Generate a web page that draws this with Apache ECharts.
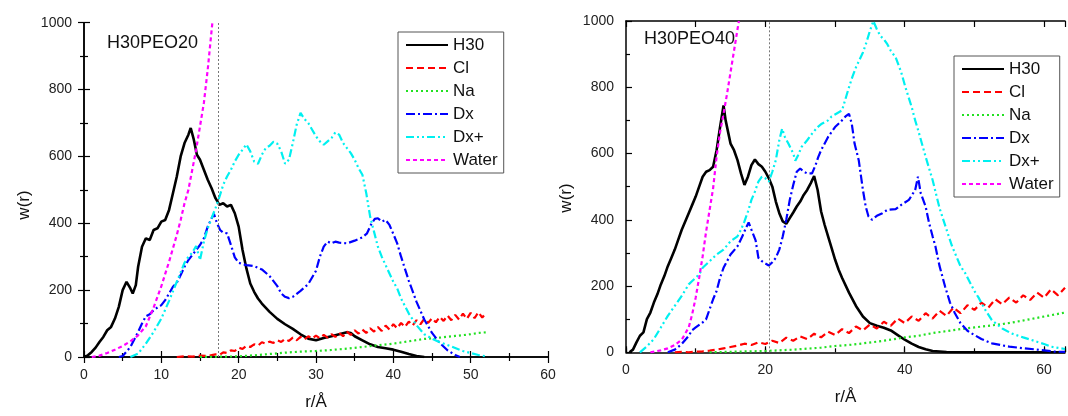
<!DOCTYPE html>
<html>
<head>
<meta charset="utf-8">
<script src="https://cdn.jsdelivr.net/npm/echarts@6/dist/echarts.min.js"></script>
<style>
  html, body { margin: 0; padding: 0; background: #fff; }
  #chart { width: 1068px; height: 416px; }
</style>
</head>
<body>
<div id="chart"></div>
<script>
// series names (legend order)
const seriesNames = ["H30", "Cl", "Na", "Dx", "Dx+", "Water"];
const xTicksA = [0, 10, 20, 30, 40, 50, 60];
const xTicksB = [0, 20, 40, 60];
const yTicks = [0, 200, 400, 600, 800, 1000];

// ---- H30PEO20 (left panel), [r, w(r)] ----
const h30A = [[0,0],[0.5,5],[1,15],[1.5,28],[2,45],[2.5,60],[3,80],[3.5,90],[4,115],[4.5,150],[5,200],[5.5,225],[6,205],[6.3,190],[6.7,215],[7,270],[7.5,330],[8,355],[8.5,350],[9,380],[9.5,385],[10,405],[10.5,410],[11,440],[11.5,490],[12,540],[12.5,600],[13,640],[13.5,665],[13.8,685],[14.2,650],[14.6,605],[15,590],[15.5,560],[16,530],[16.5,505],[17,475],[17.5,455],[18,460],[18.5,450],[19,455],[19.5,430],[20,390],[20.5,320],[21,265],[21.5,220],[22,195],[22.5,175],[23,160],[24,135],[25,114],[26,98],[27,84],[28,68],[29,55],[30,50],[31,57],[32,62],[33,68],[34,74],[34.5,72],[35,62],[36,50],[37,38],[38,30],[39,26],[40,22],[41,16],[42,9],[43,3],[44,0]];
const clA = [[12,0],[13,2],[14,1],[15,4],[16,3],[17,8],[17.5,6],[18,14],[18.5,12],[19,20],[19.5,18],[20,28],[20.5,24],[21,33],[21.5,30],[22,38],[22.5,34],[23,44],[23.5,40],[24,46],[24.5,42],[25,50],[25.5,45],[26,54],[26.5,48],[27,58],[27.5,50],[28,60],[28.5,52],[29,62],[29.5,55],[30,64],[30.5,56],[31,66],[31.5,58],[32,68],[32.5,60],[33,72],[33.5,62],[34,76],[34.5,66],[35,80],[35.5,70],[36,82],[36.5,72],[37,86],[37.5,76],[38,90],[38.5,78],[39,94],[39.5,82],[40,98],[40.5,86],[41,102],[41.5,90],[42,106],[42.5,94],[43,110],[43.5,98],[44,114],[44.5,102],[45,116],[45.5,104],[46,120],[46.5,108],[47,124],[47.5,110],[48,126],[48.5,112],[49,130],[49.5,114],[50,132],[50.5,116],[51,134],[51.5,118],[52,132]];
const naA = [[15,0],[18,1],[20,2],[22,5],[24,9],[26,13],[28,16],[30,18],[32,21],[34,25],[36,30],[38,35],[40,40],[42,47],[44,54],[46,58],[48,63],[50,68],[51,72],[52,74]];
const dxA = [[4.5,0],[5,3],[6,30],[7,75],[7.5,100],[8,122],[8.5,128],[9,140],[9.5,148],[10,155],[10.5,170],[11,190],[11.5,210],[12,222],[12.5,245],[13,270],[13.5,290],[14,305],[14.5,320],[15,335],[15.5,355],[16,390],[16.4,410],[16.8,428],[17.2,400],[17.6,380],[18,372],[18.5,370],[19,335],[19.5,298],[20,282],[20.5,278],[21,275],[22,272],[23,262],[24,242],[25,212],[25.5,190],[26,180],[26.5,176],[27,180],[28,198],[29,218],[30,258],[30.5,300],[31,330],[31.5,345],[32,340],[32.5,345],[33,342],[34,340],[35,348],[36,358],[36.6,370],[37.2,400],[37.6,413],[38,415],[38.5,405],[39,410],[39.5,395],[40,368],[40.5,340],[41,300],[42,228],[43,165],[44,112],[45,72],[46,42],[47,20],[48,6],[48.6,0]];
const dxpA = [[6,0],[7,10],[8,40],[9,75],[10,115],[11,168],[12,225],[13,282],[13.5,300],[14,312],[14.5,332],[15,290],[15.5,345],[16,385],[16.5,415],[17,445],[17.5,478],[18,515],[18.5,540],[19,560],[19.5,585],[20,605],[20.5,620],[21,636],[21.5,615],[22,585],[22.5,578],[23,605],[23.5,625],[24,632],[24.5,644],[25,638],[25.5,615],[26,578],[26.5,590],[27,640],[27.5,695],[28,730],[28.5,712],[29,700],[29.5,680],[30,660],[30.5,645],[31,635],[31.5,645],[32,655],[32.5,672],[33,665],[33.5,640],[34,625],[34.5,610],[35,590],[35.5,565],[36,545],[36.5,490],[37,420],[37.5,375],[38,330],[38.5,300],[39,275],[39.5,250],[40,225],[40.5,205],[41,175],[42,130],[43,95],[44,68],[45,55],[46,44],[47,36],[48,27],[49,18],[50,12],[51,6],[52,2]];
const waterA = [[1,0],[2,4],[3,12],[4,22],[5,33],[6,47],[7,65],[8,92],[9,148],[10,212],[11,285],[12,365],[12.5,410],[13,460],[13.5,500],[14,560],[14.5,620],[15,690],[15.5,760],[16,860],[16.3,930],[16.6,1000]];

// ---- H30PEO40 (right panel) ----
const h30B = [[0.5,0],[1,8],[1.5,30],[2,50],[2.5,60],[3,100],[3.5,120],[4,150],[4.5,175],[5,205],[5.5,230],[6,260],[6.5,285],[7,310],[7.5,340],[8,370],[8.5,395],[9,420],[9.5,445],[10,470],[10.5,500],[11,530],[11.5,545],[12,550],[12.5,560],[13,610],[13.5,680],[14,745],[14.3,700],[14.7,660],[15,630],[15.5,610],[16,580],[16.5,540],[17,505],[17.5,530],[18,565],[18.5,582],[19,568],[19.5,560],[20,545],[20.5,525],[21,500],[21.5,455],[22,420],[22.5,395],[23,388],[23.5,405],[24,422],[24.5,440],[25,455],[25.5,475],[26,490],[26.5,510],[27,532],[27.5,490],[28,425],[28.5,385],[29,350],[29.5,315],[30,280],[30.5,250],[31,225],[32,180],[33,140],[34,108],[35,88],[36,80],[37,74],[38,66],[39,52],[40,38],[41,26],[42,16],[43,9],[44,4],[46,1],[50,0],[63,0]];
const clB = [[7,0],[8,1],[9,0],[10,2],[11,3],[12,5],[13,8],[14,12],[15,16],[16,20],[17,26],[18,22],[19,30],[20,25],[21,35],[22,28],[23,44],[24,35],[25,48],[26,40],[27,56],[28,45],[29,62],[30,52],[31,70],[32,58],[33,78],[34,66],[35,84],[36,72],[37,92],[38,80],[39,102],[40,88],[41,108],[42,95],[43,118],[44,102],[45,125],[46,110],[47,135],[48,118],[49,142],[50,128],[51,150],[52,135],[53,160],[54,145],[55,165],[56,150],[57,172],[58,158],[59,180],[60,165],[61,190],[62,172],[63,195]];
const naB = [[12,0],[16,2],[20,4],[22,6],[24,8],[26,11],[28,14],[30,19],[32,22],[34,27],[36,32],[38,38],[40,45],[42,50],[44,58],[46,64],[48,70],[50,75],[52,80],[54,85],[56,92],[58,100],[60,108],[62,116],[63,120]];
const dxB = [[6,0],[7,8],[8,25],[9,50],[9.5,67],[10,75],[11,90],[11.5,100],[12,130],[12.5,160],[13,185],[13.5,225],[14,255],[14.5,275],[15,295],[16,320],[16.7,350],[17.2,375],[17.6,392],[18,370],[18.6,338],[19,285],[19.5,275],[20,268],[20.5,262],[21,272],[21.5,285],[22,310],[22.5,350],[23,400],[23.5,460],[24,505],[24.5,545],[25,555],[25.5,545],[26,540],[26.7,540],[27.2,565],[27.6,590],[28,610],[29,650],[29.5,665],[30,680],[30.5,690],[31,700],[31.5,712],[32,720],[32.4,690],[32.8,630],[33.4,580],[34,490],[34.4,440],[34.8,410],[35.3,400],[36,412],[36.8,420],[37.5,430],[38.7,432],[39.5,445],[40.6,460],[41.5,490],[41.9,530],[42.3,480],[43,440],[43.5,390],[44,350],[44.4,320],[45,260],[45.8,198],[46.5,150],[47.2,118],[48,88],[49,65],[49.6,57],[51,40],[52.5,27],[55,17],[57.2,12],[60,6],[61.5,2],[63,1]];
const dxpB = [[2,0],[3,18],[4,40],[5,75],[6,110],[7,140],[8,170],[9,205],[9.5,215],[10,225],[10.5,235],[11,255],[11.5,265],[12,275],[13,295],[14,310],[15,335],[16,350],[16.5,370],[17,395],[17.5,425],[18,460],[18.5,485],[19,515],[19.5,530],[20,525],[20.5,515],[21,545],[21.5,580],[22,640],[22.4,675],[22.8,650],[23.3,630],[24,600],[24.3,578],[24.7,595],[25.2,620],[26,640],[26.7,660],[27.5,680],[28.1,690],[29,700],[29.5,712],[30,718],[31,730],[32,800],[32.5,832],[33,860],[34,905],[34.5,935],[35,970],[35.5,1000],[36,975],[36.5,955],[37,945],[37.5,930],[38,910],[38.7,890],[39.5,845],[40.1,800],[41,740],[41.5,700],[42,665],[43,590],[43.5,555],[44,520],[45,435],[46,370],[46.8,320],[47.5,285],[48,260],[48.7,238],[50,185],[50.6,165],[51.5,130],[52.5,97],[54,72],[55.3,57],[57,45],[58.2,37],[60,25],[61,17],[63,10]];
const waterB = [[3.5,0],[5,6],[6,12],[7,22],[8,38],[9,75],[9.5,115],[10,165],[10.5,225],[11,290],[11.5,365],[12,430],[12.5,495],[13,590],[13.5,665],[14,720],[14.5,780],[15,845],[15.5,910],[16,975],[16.2,1000]];

const cutA = 17.4;   // dotted line, left panel
const cutB = 20.6;   // dotted line, right panel

const FONT = "Liberation Sans, Arial, sans-serif";
const styles = {
  "H30":   { color: "#000000", width: 2.6, type: "solid" },
  "Cl":    { color: "#ff0000", width: 2.2, type: [7, 4] },
  "Na":    { color: "#22e022", width: 2.2, type: [2, 3] },
  "Dx":    { color: "#0000ff", width: 2.2, type: [9, 3, 2, 3] },
  "Dx+":   { color: "#00f0f0", width: 2.2, type: [8, 3, 2, 3, 2, 3] },
  "Water": { color: "#ff00ff", width: 2.2, type: [4, 3] }
};

function mk(name, data, xi, yi, cut) {
  const s = {
    name: name,
    type: "line",
    xAxisIndex: xi,
    yAxisIndex: yi,
    data: data,
    symbol: "none",
    showSymbol: false,
    color: styles[name].color,
    lineStyle: styles[name],
    z: 3
  };
  if (cut != null) {
    s.markLine = {
      silent: true,
      symbol: "none",
      label: { show: false },
      lineStyle: { color: "#777", type: [2, 2], width: 1 },
      data: [{ xAxis: cut }]
    };
  }
  return s;
}

const axisLine = { show: true, lineStyle: { color: "#000", width: 1.5 } };
const label = { fontSize: 14, color: "#222", fontFamily: FONT, formatter: v => String(v) };

function xAx(grid, pos, max, interval, opts) {
  return Object.assign({
    type: "value", gridIndex: grid, position: pos, min: 0, max: max, interval: interval,
    axisLine: axisLine,
    axisTick: { show: true, inside: true, length: 6, lineStyle: { color: "#000", width: 1.2 } },
    minorTick: { show: false },
    axisLabel: { show: false },
    splitLine: { show: false }
  }, opts || {});
}
function yAx(grid, pos, opts) {
  return Object.assign({
    type: "value", gridIndex: grid, position: pos, min: 0, max: 1000, interval: 200,
    axisLine: axisLine,
    axisTick: { show: true, inside: true, length: 6, lineStyle: { color: "#000", width: 1.2 } },
    minorTick: { show: true, splitNumber: 2, length: 4, lineStyle: { color: "#000", width: 1.2 } },
    axisLabel: { show: false },
    splitLine: { show: false }
  }, opts || {});
}

const nameStyle = { fontSize: 17, color: "#111", fontFamily: FONT };

const legendBase = {
  orient: "vertical",
  data: seriesNames,
  borderColor: "#555",
  borderWidth: 1,
  padding: [4, 6, 4, 7],
  itemGap: 5,
  itemWidth: 42,
  itemHeight: 14,
  itemStyle: { opacity: 0 },
  lineStyle: { width: 2 },
  textStyle: { fontSize: 17, color: "#111", fontFamily: FONT, lineHeight: 18 },
  selectedMode: false
};

const option = {
  animation: false,
  backgroundColor: "#fff",
  grid: [
    { left: 84, right: 520, top: 22.7, bottom: 54.3 },
    { left: 626, right: 1, top: 21, bottom: 63.7 }
  ],
  xAxis: [
    xAx(0, "bottom", 60, 10, {
      minorTick: { show: true, splitNumber: 2, length: 4, lineStyle: { color: "#000", width: 1.2 } },
      axisLabel: Object.assign({ show: true, margin: 11 }, label),
      name: "r/Å", nameLocation: "middle", nameGap: 37, nameTextStyle: nameStyle
    }),
    xAx(0, "top", 60, 10, {
      minorTick: { show: true, splitNumber: 2, length: 4, lineStyle: { color: "#000", width: 1.2 } }
    }),
    xAx(1, "bottom", 63, 20, {
      axisLabel: Object.assign({}, label, { show: true, margin: 11,
        formatter: v => (xTicksB.indexOf(v) >= 0 ? String(v) : "") }),
      name: "r/Å", nameLocation: "middle", nameGap: 37, nameTextStyle: nameStyle
    }),
    xAx(1, "top", 63, 10, {}),
    xAx(1, "bottom", 63, 10, {
      axisLine: { show: false },
      axisTick: { show: true, inside: true, length: 4, lineStyle: { color: "#000", width: 1.2 } }
    })
  ],
  yAxis: [
    yAx(0, "left", { axisLabel: Object.assign({ show: true, margin: 12 }, label) }),
    yAx(0, "right", {}),
    yAx(1, "left", { axisLabel: Object.assign({ show: true, margin: 12 }, label) })
  ],
  legend: [
    Object.assign({ left: 398, top: 32 }, legendBase),
    Object.assign({ left: 954, top: 56 }, legendBase)
  ],
  graphic: [
    { type: "text", left: 107, top: 34, style: { text: "H30PEO20", font: "18px " + FONT, fill: "#111" } },
    { type: "text", left: 644, top: 30, style: { text: "H30PEO40", font: "18px " + FONT, fill: "#111" } },
    { type: "text", x: 24, y: 205, rotation: Math.PI / 2,
      style: { text: "w(r)", font: "17px " + FONT, fill: "#111", align: "center", verticalAlign: "middle" } },
    { type: "text", x: 566, y: 198, rotation: Math.PI / 2,
      style: { text: "w(r)", font: "17px " + FONT, fill: "#111", align: "center", verticalAlign: "middle" } }
  ],
  series: [
    mk("H30", h30A, 0, 0, cutA),
    mk("Cl", clA, 0, 0),
    mk("Na", naA, 0, 0),
    mk("Dx", dxA, 0, 0),
    mk("Dx+", dxpA, 0, 0),
    mk("Water", waterA, 0, 0),
    mk("H30", h30B, 2, 2, cutB),
    mk("Cl", clB, 2, 2),
    mk("Na", naB, 2, 2),
    mk("Dx", dxB, 2, 2),
    mk("Dx+", dxpB, 2, 2),
    mk("Water", waterB, 2, 2)
  ]
};

const chart = echarts.init(document.getElementById("chart"), null, { renderer: "canvas" });
chart.setOption(option);
window.addEventListener("resize", () => chart.resize());
</script>
</body>
</html>
